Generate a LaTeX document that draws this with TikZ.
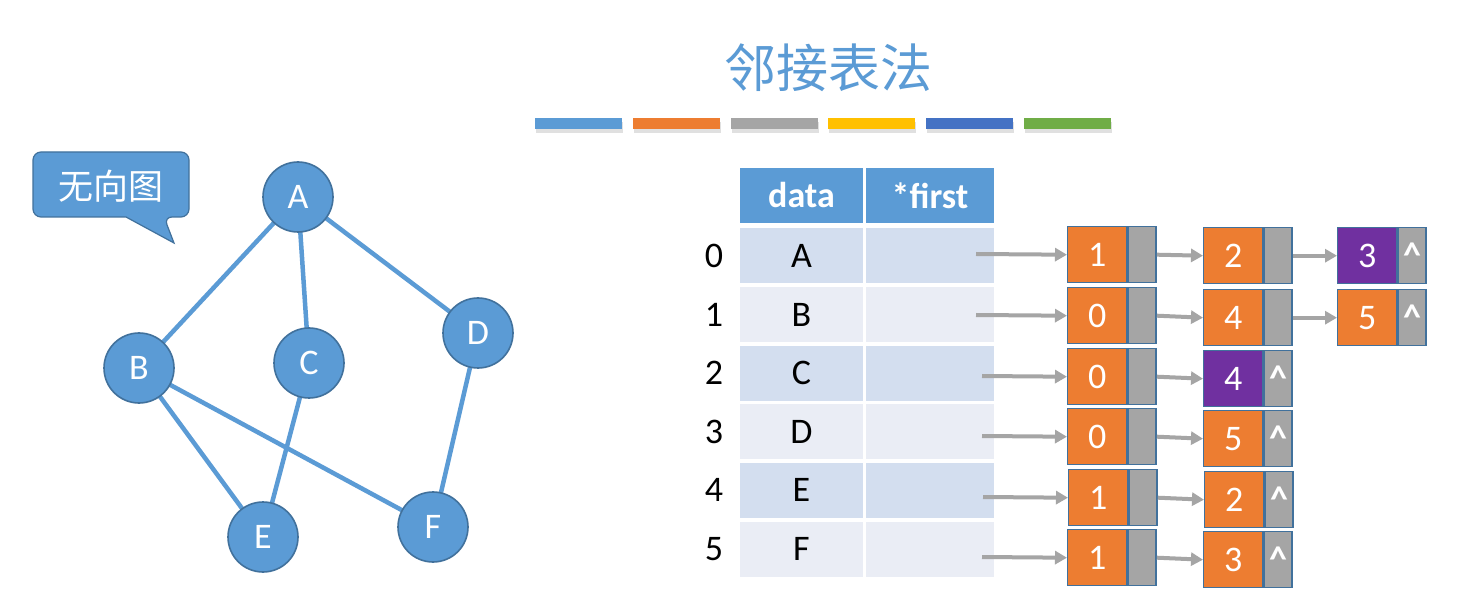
\documentclass[tikz,border=0pt]{standalone}
\usepackage{fontspec}
\setmainfont{Carlito}
\newfontfamily\cjk{Noto Sans CJK SC}
\usetikzlibrary{arrows.meta}
\definecolor{accent}{HTML}{5B9BD5}
\definecolor{edgeblue}{HTML}{41719C}
\definecolor{orng}{HTML}{ED7D31}
\definecolor{grayc}{HTML}{A5A5A5}
\definecolor{gold}{HTML}{FFC000}
\definecolor{dblue}{HTML}{4472C4}
\definecolor{grn}{HTML}{70AD47}
\definecolor{purp}{HTML}{7030A0}
\definecolor{rowa}{HTML}{D3DEEF}
\definecolor{rowb}{HTML}{EAEDF5}
\begin{document}
\begin{tikzpicture}[x=1pt,y=-1pt,
  vert/.style={circle,minimum size=70,inner sep=0,fill=accent,draw=edgeblue,line width=1.6,text=white,font=\fontsize{36}{42}\selectfont},
  gedge/.style={draw=accent,line width=4.5},
  hdr/.style={fill=accent,text=white,inner sep=0,outer sep=0,minimum height=55,anchor=north west,font=\bfseries\fontsize{36}{42}\selectfont},
  cell/.style={inner sep=0,outer sep=0,minimum height=55,anchor=north west,font=\fontsize{36}{42}\selectfont},
  idx/.style={font=\fontsize{36}{42}\selectfont},
  valbox/.style={anchor=north west,minimum width=59,minimum height=56,inner sep=0,draw=edgeblue,line width=1.4,text=white,font=\fontsize{36}{42}\selectfont},
  ptrbox/.style={anchor=north west,minimum width=28,minimum height=56,inner sep=0,draw=edgeblue,line width=1.4,fill=grayc,text=white,font=\bfseries\fontsize{36}{40}\selectfont},
  arr/.style={draw=grayc,line width=4,-{Triangle[length=12,width=13]}},
]
\useasboundingbox (0,0) rectangle (1462,601);
\fill[white] (0,0) rectangle (1462,601);

% title
\node[font=\cjk\fontsize{52}{60}\selectfont,text=accent] (title) at (828,68) {邻接表法};
% colour bars
\foreach \c [count=\i from 0] in {accent,orng,grayc,gold,dblue,grn}{
  \fill[black!12] (535+97.8*\i+1,122) rectangle ++(87,11);
  \fill[\c] (535+97.8*\i,118) rectangle ++(87,11);
}

% callout
\draw[fill=accent,draw=edgeblue,line width=1.2,rounded corners=8]
  (33,152) -- (189,152) -- (189,217) -- (164,217) [sharp corners] -- (174,243) -- (126,217) [rounded corners=8] -- (33,217) -- cycle;
\node[font=\cjk\fontsize{35}{40}\selectfont,text=white] (ctext) at (111,186) {无向图};

% graph
\coordinate (A) at (298,197);
\coordinate (B) at (139,368);
\coordinate (C) at (309,363);
\coordinate (D) at (478,333);
\coordinate (E) at (263,537);
\coordinate (F) at (433,527);
\foreach \a/\b in {A/B,A/C,A/D,B/E,B/F,C/E,D/F}{\draw[gedge] (\a) -- (\b);}
\node[vert] (vA) at (A) {A};
\node[vert] (vB) at (B) {B};
\node[vert] (vC) at (C) {C};
\node[vert] (vD) at (D) {D};
\node[vert] (vE) at (E) {E};
\node[vert] (vF) at (F) {F};

% table
\node[hdr,minimum width=123] (hdata) at (740,168) {data};
\node[hdr,minimum width=128] (hfirst) at (866,168) {*first};
\foreach \v [count=\i from 0] in {A,B,C,D,E,F}{
  \pgfmathsetmacro{\top}{228.5+58.6*\i}
  \pgfmathsetmacro{\cy}{\top+27.5}
  \ifodd\i \def\rc{rowb}\else\def\rc{rowa}\fi
  \node[cell,fill=\rc,minimum width=123] (d\i) at (740,\top) {\v};
  \node[cell,fill=\rc,minimum width=128] (f\i) at (866,\top) {};
  \node[idx] (i\i) at (714,\cy) {\i};
}

% list cells column 1
\node[valbox,fill=orng] (v0a) at (1067,226) {1}; \node[ptrbox] (p0a) at (v0a.north east) {};
\node[valbox,fill=orng] (v1a) at (1067,287) {0}; \node[ptrbox] (p1a) at (v1a.north east) {};
\node[valbox,fill=orng] (v2a) at (1067,348) {0}; \node[ptrbox] (p2a) at (v2a.north east) {};
\node[valbox,fill=orng] (v3a) at (1067,408) {0}; \node[ptrbox] (p3a) at (v3a.north east) {};
\node[valbox,fill=orng] (v4a) at (1068,469) {1}; \node[ptrbox] (p4a) at (v4a.north east) {};
\node[valbox,fill=orng] (v5a) at (1067,529) {1}; \node[ptrbox] (p5a) at (v5a.north east) {};
% column 2
\node[valbox,fill=orng] (v0b) at (1203,227) {2}; \node[ptrbox] (p0b) at (v0b.north east) {};
\node[valbox,fill=orng] (v1b) at (1203,289) {4}; \node[ptrbox] (p1b) at (v1b.north east) {};
\node[valbox,fill=purp] (v2b) at (1203,350) {4}; \node[ptrbox] (p2b) at (v2b.north east) {\textasciicircum};
\node[valbox,fill=orng] (v3b) at (1203,410) {5}; \node[ptrbox] (p3b) at (v3b.north east) {\textasciicircum};
\node[valbox,fill=orng] (v4b) at (1204,471) {2}; \node[ptrbox] (p4b) at (v4b.north east) {\textasciicircum};
\node[valbox,fill=orng] (v5b) at (1203,531) {3}; \node[ptrbox] (p5b) at (v5b.north east) {\textasciicircum};
% column 3
\node[valbox,fill=purp] (v0c) at (1337,227) {3}; \node[ptrbox] (p0c) at (v0c.north east) {\textasciicircum};
\node[valbox,fill=orng] (v1c) at (1337,289) {5}; \node[ptrbox] (p1c) at (v1c.north east) {\textasciicircum};

% arrows from table
\coordinate (s0) at (976,254);
\coordinate (s1) at (976,315);
\coordinate (s2) at (982,376);
\coordinate (s3) at (982,436);
\coordinate (s4) at (983,497);
\coordinate (s5) at (982,557);
\foreach \r in {0,...,5}{\draw[arr] (s\r) -- (v\r a.west);}
\foreach \r in {0,...,5}{\draw[arr] (p\r a.east) -- (v\r b.west);}
\foreach \r in {0,1}{\draw[arr] (p\r b.east) -- (v\r c.west);}
\end{tikzpicture}
\end{document}
